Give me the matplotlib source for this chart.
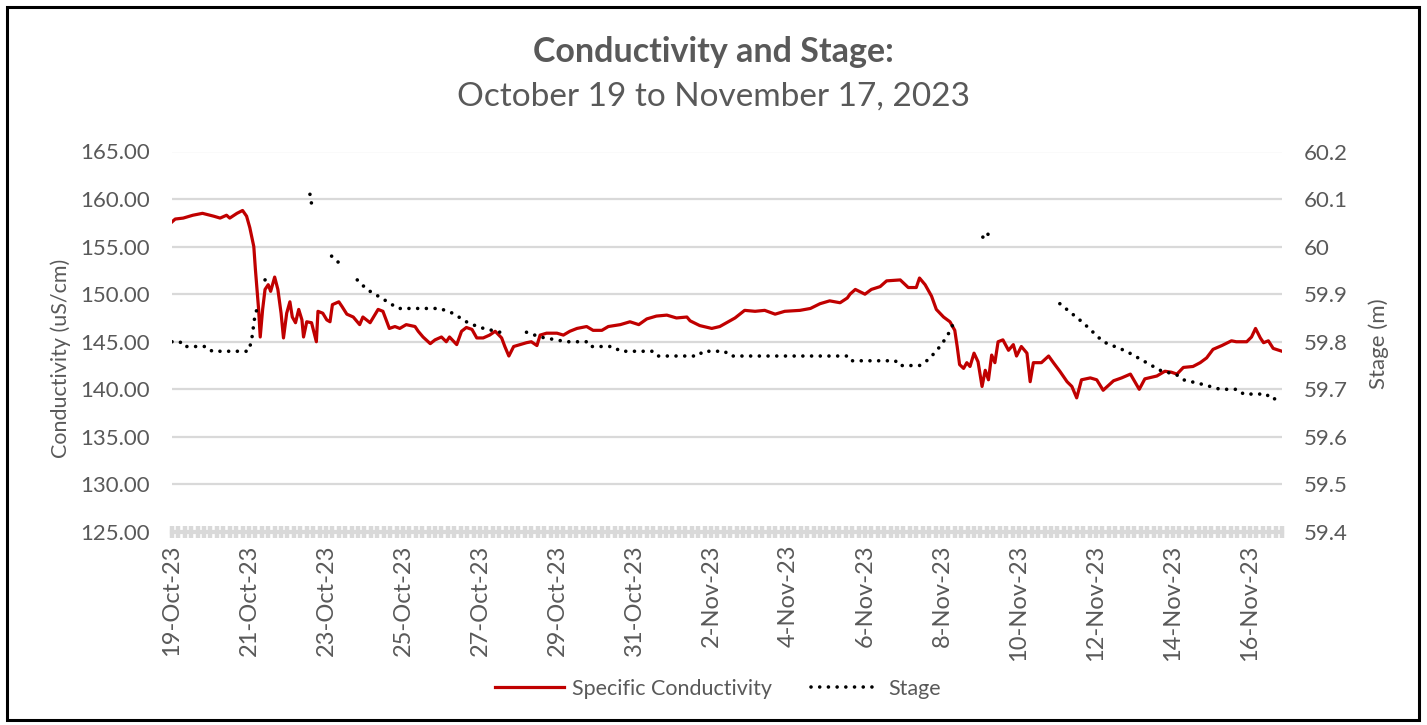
import numpy as np
import pandas as pd
import matplotlib
matplotlib.use("Agg")
import matplotlib.pyplot as plt
import matplotlib.dates as mdates
from matplotlib.ticker import MultipleLocator, FuncFormatter, FixedLocator
from matplotlib.patches import Rectangle

plt.rcParams['font.family'] = ['Lato', 'DejaVu Sans']

# specific conductivity (uS/cm)
cond_time = [
    "2023-10-19 00:00", "2023-10-19 02:00", "2023-10-19 07:00", "2023-10-19 13:00",
    "2023-10-19 19:00", "2023-10-20 02:00", "2023-10-20 06:00", "2023-10-20 10:00",
    "2023-10-20 12:00", "2023-10-20 16:30", "2023-10-20 20:00", "2023-10-20 22:30",
    "2023-10-21 00:30", "2023-10-21 03:00", "2023-10-21 04:00", "2023-10-21 06:00",
    "2023-10-21 07:00", "2023-10-21 08:30", "2023-10-21 10:00", "2023-10-21 12:00",
    "2023-10-21 13:30", "2023-10-21 16:00", "2023-10-21 18:00", "2023-10-21 20:00",
    "2023-10-21 21:30", "2023-10-21 23:30", "2023-10-22 01:30", "2023-10-22 03:00",
    "2023-10-22 05:00", "2023-10-22 07:00", "2023-10-22 09:00", "2023-10-22 10:00",
    "2023-10-22 12:00", "2023-10-22 15:00", "2023-10-22 18:00", "2023-10-22 19:00",
    "2023-10-22 22:00", "2023-10-23 00:30", "2023-10-23 02:30", "2023-10-23 04:00",
    "2023-10-23 08:00", "2023-10-23 10:00", "2023-10-23 13:00", "2023-10-23 17:00",
    "2023-10-23 21:00", "2023-10-23 23:00", "2023-10-24 03:30", "2023-10-24 08:30",
    "2023-10-24 11:30", "2023-10-24 15:30", "2023-10-24 19:00", "2023-10-24 22:00",
    "2023-10-25 02:00", "2023-10-25 07:30", "2023-10-25 09:30", "2023-10-25 12:30",
    "2023-10-25 17:00", "2023-10-25 20:00", "2023-10-26 00:00", "2023-10-26 03:00",
    "2023-10-26 05:00", "2023-10-26 09:30", "2023-10-26 12:30", "2023-10-26 15:30",
    "2023-10-26 19:00", "2023-10-26 22:00", "2023-10-27 02:00", "2023-10-27 06:00",
    "2023-10-27 09:30", "2023-10-27 13:30", "2023-10-27 15:30", "2023-10-27 18:00",
    "2023-10-27 21:00", "2023-10-28 01:00", "2023-10-28 05:00", "2023-10-28 08:00",
    "2023-10-28 11:30", "2023-10-28 13:30", "2023-10-28 17:30", "2023-10-29 00:00",
    "2023-10-29 04:00", "2023-10-29 08:00", "2023-10-29 12:30", "2023-10-29 18:30",
    "2023-10-29 22:30", "2023-10-30 04:00", "2023-10-30 08:00", "2023-10-30 15:30",
    "2023-10-30 21:30", "2023-10-31 03:00", "2023-10-31 08:00", "2023-10-31 14:00",
    "2023-10-31 20:30", "2023-11-01 02:30", "2023-11-01 09:00", "2023-11-01 11:00",
    "2023-11-01 17:00", "2023-11-02 00:30", "2023-11-02 05:30", "2023-11-02 15:00",
    "2023-11-02 21:00", "2023-11-03 03:30", "2023-11-03 09:30", "2023-11-03 16:00",
    "2023-11-03 22:00", "2023-11-04 07:30", "2023-11-04 14:00", "2023-11-04 20:00",
    "2023-11-05 02:00", "2023-11-05 08:30", "2023-11-05 13:00", "2023-11-05 14:40",
    "2023-11-05 18:00", "2023-11-06 00:00", "2023-11-06 04:00", "2023-11-06 09:30",
    "2023-11-06 13:30", "2023-11-06 22:00", "2023-11-07 03:00", "2023-11-07 08:00",
    "2023-11-07 10:00", "2023-11-07 13:30", "2023-11-07 17:30", "2023-11-07 20:30",
    "2023-11-08 01:00", "2023-11-08 05:00", "2023-11-08 08:00", "2023-11-08 09:30",
    "2023-11-08 11:00", "2023-11-08 13:30", "2023-11-08 15:30", "2023-11-08 17:30",
    "2023-11-08 20:00", "2023-11-08 22:30", "2023-11-09 01:00", "2023-11-09 03:00",
    "2023-11-09 05:00", "2023-11-09 07:00", "2023-11-09 09:00", "2023-11-09 11:00",
    "2023-11-09 14:00", "2023-11-09 17:30", "2023-11-09 20:30", "2023-11-09 22:30",
    "2023-11-10 01:30", "2023-11-10 05:00", "2023-11-10 07:00", "2023-11-10 09:00",
    "2023-11-10 14:00", "2023-11-10 18:30", "2023-11-10 21:30", "2023-11-11 01:30",
    "2023-11-11 06:00", "2023-11-11 09:00", "2023-11-11 12:00", "2023-11-11 15:00",
    "2023-11-11 20:30", "2023-11-12 00:30", "2023-11-12 04:30", "2023-11-12 11:00",
    "2023-11-12 16:00", "2023-11-12 21:30", "2023-11-13 03:00", "2023-11-13 06:30",
    "2023-11-13 14:00", "2023-11-13 19:00", "2023-11-13 23:00", "2023-11-14 02:30",
    "2023-11-14 06:30", "2023-11-14 12:30", "2023-11-14 17:00", "2023-11-14 21:00",
    "2023-11-15 01:00", "2023-11-15 06:30", "2023-11-15 12:30", "2023-11-15 15:30",
    "2023-11-15 22:00", "2023-11-16 01:00", "2023-11-16 03:30", "2023-11-16 06:30",
    "2023-11-16 08:30", "2023-11-16 11:30", "2023-11-16 14:30", "2023-11-16 20:00",
]
cond_us = [
    157.6, 157.9, 158.0, 158.3, 158.5, 158.2, 158.0, 158.3,
    158.0, 158.5, 158.8, 158.2, 157.0, 155.0, 152.6, 148.4,
    145.5, 148.4, 150.5, 151.0, 150.3, 151.8, 150.5, 148.0,
    145.4, 148.0, 149.2, 147.6, 147.0, 148.4, 147.3, 145.5,
    147.1, 147.0, 145.0, 148.2, 148.0, 147.3, 147.1, 148.9,
    149.2, 148.7, 147.9, 147.6, 146.8, 147.6, 147.0, 148.4,
    148.2, 146.4, 146.6, 146.4, 146.8, 146.6, 146.1, 145.5,
    144.8, 145.2, 145.5, 145.0, 145.5, 144.7, 146.1, 146.5,
    146.3, 145.4, 145.4, 145.7, 146.1, 145.4, 144.5, 143.5,
    144.5, 144.7, 144.9, 145.0, 144.6, 145.7, 145.9, 145.9,
    145.7, 146.1, 146.4, 146.6, 146.2, 146.2, 146.6, 146.8,
    147.1, 146.8, 147.4, 147.7, 147.8, 147.5, 147.6, 147.2,
    146.7, 146.4, 146.6, 147.5, 148.3, 148.2, 148.3, 147.9,
    148.2, 148.3, 148.5, 149.0, 149.3, 149.1, 149.6, 150.0,
    150.5, 150.0, 150.5, 150.8, 151.4, 151.5, 150.7, 150.7,
    151.7, 151.0, 149.8, 148.4, 147.6, 147.1, 146.2, 144.5,
    142.6, 142.2, 142.8, 142.4, 143.8, 142.9, 140.3, 142.0,
    141.0, 143.6, 142.8, 145.0, 145.2, 144.1, 144.7, 143.5,
    144.5, 143.8, 140.8, 142.8, 142.8, 143.5, 142.8, 141.9,
    140.8, 140.3, 139.1, 141.0, 141.2, 141.0, 139.9, 140.9,
    141.2, 141.6, 140.0, 141.1, 141.4, 141.9, 141.8, 141.6,
    142.3, 142.4, 142.8, 143.3, 144.2, 144.6, 145.1, 145.0,
    145.0, 145.5, 146.4, 145.4, 144.9, 145.1, 144.3, 144.0,
]

# stage (m); NaN marks the gaps in the logger record
stage_time = [
    "2023-10-19 00:00", "2023-10-19 05:00", "2023-10-19 07:00", "2023-10-19 21:30",
    "2023-10-20 01:00", "2023-10-20 20:30", "2023-10-20 23:30", "2023-10-21 01:30",
    "2023-10-21 03:30", "2023-10-21 05:00", "2023-10-21 07:00",
    "2023-10-21 10:00", "2023-10-21 10:30", "2023-10-22 00:00",
    "2023-10-22 14:00", "2023-10-22 15:00", "2023-10-22 20:00",
    "2023-10-23 03:30", "2023-10-23 10:00", "2023-10-23 15:00",
    "2023-10-23 19:30", "2023-10-24 01:30", "2023-10-24 11:30", "2023-10-24 21:00",
    "2023-10-25 21:00", "2023-10-25 23:00", "2023-10-26 07:00", "2023-10-26 16:30",
    "2023-10-27 00:00", "2023-10-27 12:30", "2023-10-27 20:00",
    "2023-10-28 05:00", "2023-10-28 13:30", "2023-10-29 06:00", "2023-10-29 18:30",
    "2023-10-29 20:30", "2023-10-30 11:00", "2023-10-30 15:30", "2023-10-31 12:00",
    "2023-10-31 15:00", "2023-11-01 16:00", "2023-11-01 19:00", "2023-11-02 08:30",
    "2023-11-02 12:00", "2023-11-05 14:00", "2023-11-05 16:00", "2023-11-06 19:00",
    "2023-11-06 21:00", "2023-11-07 10:00", "2023-11-07 14:30", "2023-11-07 20:30",
    "2023-11-08 03:00", "2023-11-08 06:00", "2023-11-08 08:45", "2023-11-08 18:00",
    "2023-11-09 01:30", "2023-11-09 04:30", "2023-11-09 05:30", "2023-11-10 00:00",
    "2023-11-11 01:30", "2023-11-11 16:00", "2023-11-12 04:30", "2023-11-12 19:00",
    "2023-11-13 05:30", "2023-11-13 16:00", "2023-11-14 02:30", "2023-11-14 06:30",
    "2023-11-14 19:00", "2023-11-15 05:30", "2023-11-15 16:30", "2023-11-15 20:00",
    "2023-11-16 10:30", "2023-11-16 12:30", "2023-11-16 17:45",
]
stage_m = [
    59.80, 59.80, 59.79, 59.79,
    59.78, 59.78, 59.78, 59.80,
    59.85, 59.87, np.nan,
    59.93, 59.935, np.nan,
    60.11, 60.09, np.nan,
    59.98, 59.96, np.nan,
    59.93, 59.91, 59.89, 59.87,
    59.87, 59.87, 59.86, 59.84,
    59.83, 59.82, np.nan,
    59.82, 59.81, 59.80, 59.80,
    59.79, 59.79, 59.78, 59.78,
    59.77, 59.77, 59.78, 59.78,
    59.77, 59.77, 59.76, 59.76,
    59.75, 59.75, 59.76, 59.78,
    59.81, 59.83, 59.85, np.nan,
    60.02, 60.03, 60.01, np.nan,
    59.88, 59.84, 59.80, 59.78,
    59.76, 59.74, 59.73, 59.72,
    59.71, 59.70, 59.70, 59.69,
    59.69, 59.68, 59.68,
]

x_start = "2023-10-19 00:00"
x_end = "2023-11-16 20:00"

title = "Conductivity and Stage:"
subtitle = "October 19 to November 17, 2023"

grey_text = "#595959"
grid_grey = "#d9d9d9"
red = "#c00000"

W, H = 1427, 725
fig = plt.figure(figsize=(W / 100, H / 100), dpi=100)
ax = fig.add_axes([172 / W, (H - 532) / H, 1110 / W, 380.5 / H])
ax2 = ax.twinx()

ct = pd.to_datetime(cond_time)
st = pd.to_datetime(stage_time)

line_c, = ax.plot(ct, cond_us, color=red, lw=2.3, solid_joinstyle="round",
                  label="Specific Conductivity", zorder=3)
line_s, = ax2.plot(st, stage_m, color="black", lw=2.6, linestyle=(0, (0.01, 2.4)),
                   dash_capstyle="round", label="Stage")

ax.set_xlim(pd.Timestamp(x_start), pd.Timestamp(x_end))
ax.set_ylim(125, 165)
ax2.set_ylim(59.4, 60.2)

ax.yaxis.set_major_locator(MultipleLocator(5))
ax.yaxis.set_major_formatter(FuncFormatter(lambda v, p: f"{v:.2f}"))
ax2.yaxis.set_major_locator(MultipleLocator(0.1))
ax2.yaxis.set_major_formatter(FuncFormatter(lambda v, p: f"{round(v, 1):g}"))

# labels every second day counted from the first day
label_days = pd.date_range(x_start, x_end, freq="2D")
ax.xaxis.set_major_locator(FixedLocator(mdates.date2num(label_days)))
ax.xaxis.set_minor_locator(mdates.HourLocator(byhour=range(0, 24, 4)))
ax.xaxis.set_major_formatter(FuncFormatter(
    lambda v, p: f"{mdates.num2date(v).day}-{mdates.num2date(v):%b-%y}"))

ax.grid(axis="y", color=grid_grey, lw=1.6)
ax.set_axisbelow(True)

for s in ["top", "left", "right"]:
    ax.spines[s].set_visible(False)
for s in ax2.spines.values():
    s.set_visible(False)
ax.spines["bottom"].set_color(grid_grey)
ax.spines["bottom"].set_linewidth(3)

ax.tick_params(axis="x", which="both", direction="inout", length=8, width=3.2,
               color=grid_grey, pad=5)
ax.tick_params(axis="x", which="major", labelrotation=90, labelsize=17, labelcolor=grey_text)
ax.tick_params(axis="y", length=0, pad=16, labelsize=16, labelcolor=grey_text)
ax2.tick_params(axis="y", length=0, pad=16, labelsize=16, labelcolor=grey_text)
for lab in ax.get_xticklabels():
    lab.set_verticalalignment("top")

ax.set_ylabel("Conductivity (uS/cm)", fontsize=15.5, color=grey_text)
ax.yaxis.set_label_coords((71 - 172) / 1110, (532 - 358) / 380.5)
ax2.set_ylabel("Stage (m)", fontsize=16, color=grey_text, rotation=90)
ax2.yaxis.set_label_coords((1368 - 172) / 1110, (532 - 344) / 380.5)

fig.text(0.5, 1 - 52 / H, title, ha="center", va="center", fontsize=24.5,
         fontweight="bold", color=grey_text)
fig.text(0.5, 1 - 97 / H, subtitle, ha="center", va="center", fontsize=24,
         color=grey_text)

fig.legend(handles=[line_c, line_s], loc="center", bbox_to_anchor=(718 / W, 1 - 689 / H),
           ncol=2, frameon=False, fontsize=15.5, labelcolor=grey_text,
           handlelength=3.2, handletextpad=0.4, columnspacing=1.8)

fig.patches.append(Rectangle((7 / W, 5 / H), 1412 / W, 713 / H, transform=fig.transFigure,
                             fill=False, edgecolor="black", lw=2.2))

fig.savefig("out.png", dpi=100)
